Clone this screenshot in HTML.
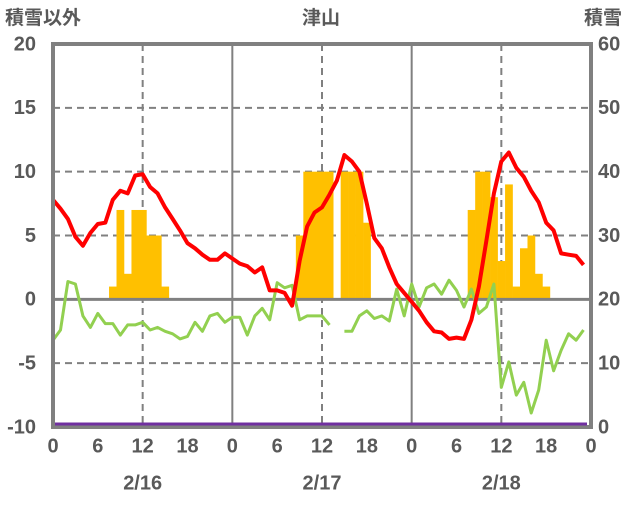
<!DOCTYPE html>
<html><head><meta charset="utf-8"><style>
html,body{margin:0;padding:0;background:#fff;}
svg text{font-family:"Liberation Sans","Noto Sans CJK JP",sans-serif;fill:#595959;font-weight:bold;}
</style></head><body>
<svg id="chart" width="636" height="501" viewBox="0 0 636 501" xmlns="http://www.w3.org/2000/svg">
<g id="grid"></g>
<g id="bars"></g>
<g id="lines"></g>
<g id="axes"></g>
<g id="top"></g>
</svg>
<script>
const hoursCount = 72;
const leftTicks = [20, 15, 10, 5, 0, -5, -10];
const rightTicks = [60, 50, 40, 30, 20, 10, 0];
const xTickLabels = ["0","6","12","18","0","6","12","18","0","6","12","18","0"];
const dateLabels = ["2/16","2/17","2/18"];
const snowHours = [8,9,10,11,12,13,14,15, 33,34,35,36,37,39,40,41,42, 56,57,58,59,60,61,62,63,64,65,66];
const snowValues = [22,34,24,34,34,30,30,22, 30,40,40,40,40,40,40,40,32, 34,40,40,36,26,38,22,28,30,24,22];
const redSeries = [7.8,7.1,6.3,4.9,4.2,5.2,5.9,6.0,7.8,8.5,8.3,9.7,9.8,8.8,8.3,7.2,6.3,5.4,4.4,4.0,3.5,3.1,3.1,3.6,
3.2,2.8,2.6,2.1,2.5,0.7,0.7,0.5,-0.5,3.0,5.7,6.8,7.2,8.2,9.3,11.3,10.8,10.0,7.5,4.8,4.0,2.5,1.2,0.5,
-0.2,-0.9,-1.8,-2.5,-2.6,-3.1,-3.0,-3.1,-1.6,1.0,4.6,8.3,10.8,11.5,10.3,9.6,8.5,7.6,6.0,5.4,3.6,3.5,3.4,2.7];
const greenSeries = [-3.2,-2.4,1.4,1.2,-1.3,-2.2,-1.1,-1.9,-1.9,-2.8,-2.0,-2.0,-1.8,-2.4,-2.2,-2.5,-2.7,-3.1,-2.9,-1.8,-2.5,-1.3,-1.1,-1.8,
-1.4,-1.4,-2.8,-1.3,-0.7,-1.6,1.3,0.9,1.1,-1.6,-1.3,-1.3,-1.3,-2.0,null,-2.5,-2.5,-1.3,-0.9,-1.5,-1.3,-1.7,0.8,-1.3,
1.2,-0.6,0.9,1.2,0.4,1.5,0.7,-0.6,0.8,-1.1,-0.6,1.2,-6.9,-4.9,-7.5,-6.5,-8.9,-7.1,-3.2,-5.6,-4.0,-2.7,-3.2,-2.4];
const purpleSeries = [0,0];

const X0=53, X1=591, Y0=44, Y1=427;
const xs = h => X0 + h*(X1-X0)/hoursCount;
const yL = v => Y1 - (v+10)*(Y1-Y0)/30;
const yR = v => Y1 - v*(Y1-Y0)/60;
const NS="http://www.w3.org/2000/svg";
function mk(parent, tag, attrs){const e=document.createElementNS(NS,tag);for(const k in attrs)e.setAttribute(k,attrs[k]);document.getElementById(parent).appendChild(e);return e;}

for(const v of [15,10,5,-5]){
  const l=mk('grid','line',{x1:X0,x2:X1,y1:yL(v),y2:yL(v),stroke:'#808080','stroke-width':2,'stroke-dasharray':'7,5'});
  
  
}
for(const h of [12,36,60]){
  const l=mk('grid','line',{x1:xs(h),x2:xs(h),y1:Y0,y2:Y1,stroke:'#808080','stroke-width':2,'stroke-dasharray':'7,5'});
  
  
}
for(const h of [24,48]){
  const l=mk('grid','line',{x1:xs(h),x2:xs(h),y1:Y0,y2:Y1,stroke:'#808080','stroke-width':2});
  
  
}
const bw=(X1-X0)/hoursCount;
snowHours.forEach((h,i)=>{
  const top=yR(snowValues[i]), base=yR(20);
  const r=mk('bars','rect',{x:xs(h)-bw/2,y:top,width:bw+0.3,height:base-top,fill:'#ffc000'});
  
  
});
const z=mk('bars','line',{x1:X0,x2:X1,y1:yL(0),y2:yL(0),stroke:'#808080','stroke-width':3});



function path(series, yf){
  let d='',pen=false;
  series.forEach((v,h)=>{ if(v===null){pen=false;return;} d+=(pen?'L':'M')+xs(h).toFixed(1)+','+yf(v).toFixed(1); pen=true;});
  return d;
}
const g=mk('lines','path',{d:path(greenSeries,yL),fill:'none',stroke:'#92d050','stroke-width':3,'stroke-linejoin':'round'});


const r=mk('lines','path',{d:path(redSeries,yL),fill:'none',stroke:'#ff0000','stroke-width':4,'stroke-linejoin':'round'});



const b=mk('axes','rect',{x:X0,y:Y0,width:X1-X0,height:Y1-Y0,fill:'none',stroke:'#808080','stroke-width':4});



const p=mk('top','line',{x1:X0+2,x2:X1-4,y1:yR(purpleSeries[0])-3,y2:yR(purpleSeries[1])-3,stroke:'#7030a0','stroke-width':3});



function txt(x,y,s,anchor,size,name){
  const t=mk('axes','text',{x:x,y:y,'text-anchor':anchor,'font-size':size,'dominant-baseline':'middle'});
  t.textContent=s;
  
  
  return t;
}
leftTicks.forEach(v=>txt(36,yL(v)+1,String(v),'end',20,'left-tick-label'));
rightTicks.forEach(v=>txt(598,yR(v)+1,String(v),'start',20,'right-tick-label'));
xTickLabels.forEach((s,i)=>txt(xs(i*6),447,s,'middle',20,'x-tick-label'));
dateLabels.forEach((s,i)=>txt(xs(12+24*i),484,s,'middle',20,'date-label'));
txt(5,19,'積雪以外','start',19,'left-axis-title');
txt(321,19,'津山','middle',19,'chart-title');
txt(584,19,'積雪','start',19,'right-axis-title');
</script>
</body></html>
